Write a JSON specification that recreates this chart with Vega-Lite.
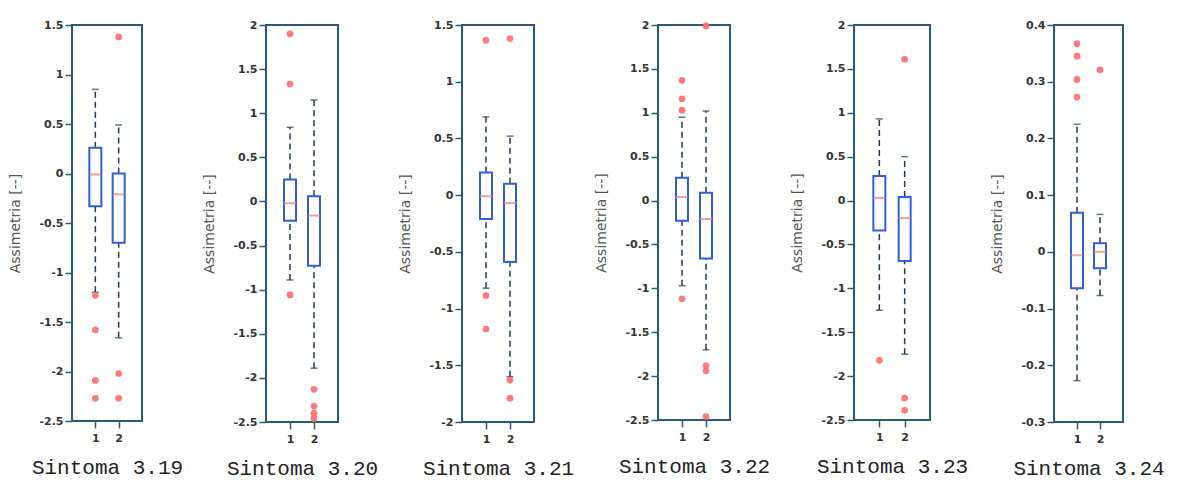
{
  "$schema": "https://vega.github.io/schema/vega-lite/v6.json",
  "background": "white",
  "padding": {"left": 7, "top": 18, "right": 5, "bottom": 5},
  "datasets": {
    "boxes": [
      {"p": "3.19", "g": "1", "lo": -1.2, "q1": -0.33, "med": -0.01, "q3": 0.26, "hi": 0.85},
      {"p": "3.19", "g": "2", "lo": -1.66, "q1": -0.7, "med": -0.21, "q3": 0.0, "hi": 0.49},
      {"p": "3.20", "g": "1", "lo": -0.89, "q1": -0.22, "med": -0.02, "q3": 0.25, "hi": 0.84},
      {"p": "3.20", "g": "2", "lo": -1.89, "q1": -0.73, "med": -0.16, "q3": 0.06, "hi": 1.15},
      {"p": "3.21", "g": "1", "lo": -0.82, "q1": -0.21, "med": -0.01, "q3": 0.2, "hi": 0.69},
      {"p": "3.21", "g": "2", "lo": -1.6, "q1": -0.59, "med": -0.07, "q3": 0.1, "hi": 0.52},
      {"p": "3.22", "g": "1", "lo": -0.97, "q1": -0.23, "med": 0.04, "q3": 0.26, "hi": 0.95},
      {"p": "3.22", "g": "2", "lo": -1.7, "q1": -0.66, "med": -0.21, "q3": 0.09, "hi": 1.02},
      {"p": "3.23", "g": "1", "lo": -1.25, "q1": -0.34, "med": 0.03, "q3": 0.28, "hi": 0.93},
      {"p": "3.23", "g": "2", "lo": -1.75, "q1": -0.69, "med": -0.2, "q3": 0.04, "hi": 0.5},
      {"p": "3.24", "g": "1", "lo": -0.227, "q1": -0.064, "med": -0.006, "q3": 0.069, "hi": 0.225},
      {"p": "3.24", "g": "2", "lo": -0.077, "q1": -0.029, "med": 0.0, "q3": 0.015, "hi": 0.066}
    ],
    "outliers": [
      {"p": "3.19", "g": "1", "v": -1.23},
      {"p": "3.19", "g": "1", "v": -1.58},
      {"p": "3.19", "g": "1", "v": -2.09},
      {"p": "3.19", "g": "1", "v": -2.27},
      {"p": "3.19", "g": "2", "v": 1.38},
      {"p": "3.19", "g": "2", "v": -2.02},
      {"p": "3.19", "g": "2", "v": -2.27},
      {"p": "3.20", "g": "1", "v": 1.9},
      {"p": "3.20", "g": "1", "v": 1.33},
      {"p": "3.20", "g": "1", "v": -1.06},
      {"p": "3.20", "g": "2", "v": -2.13},
      {"p": "3.20", "g": "2", "v": -2.32},
      {"p": "3.20", "g": "2", "v": -2.4},
      {"p": "3.20", "g": "2", "v": -2.46},
      {"p": "3.21", "g": "1", "v": 1.365},
      {"p": "3.21", "g": "1", "v": -0.885},
      {"p": "3.21", "g": "1", "v": -1.18},
      {"p": "3.21", "g": "2", "v": 1.38},
      {"p": "3.21", "g": "2", "v": -1.63},
      {"p": "3.21", "g": "2", "v": -1.79},
      {"p": "3.22", "g": "1", "v": 1.37},
      {"p": "3.22", "g": "1", "v": 1.16},
      {"p": "3.22", "g": "1", "v": 1.03},
      {"p": "3.22", "g": "1", "v": -1.12},
      {"p": "3.22", "g": "2", "v": 1.99},
      {"p": "3.22", "g": "2", "v": -1.88},
      {"p": "3.22", "g": "2", "v": -1.94},
      {"p": "3.22", "g": "2", "v": -2.46},
      {"p": "3.23", "g": "1", "v": -1.82},
      {"p": "3.23", "g": "2", "v": 1.61},
      {"p": "3.23", "g": "2", "v": -2.25},
      {"p": "3.23", "g": "2", "v": -2.39},
      {"p": "3.24", "g": "1", "v": 0.367},
      {"p": "3.24", "g": "1", "v": 0.345},
      {"p": "3.24", "g": "1", "v": 0.304},
      {"p": "3.24", "g": "1", "v": 0.273},
      {"p": "3.24", "g": "2", "v": 0.321}
    ]
  },
  "bounds": "flush",
  "spacing": 124,
  "resolve": {"scale": {"x": "independent", "y": "independent"}},
  "hconcat": [
    {
      "width": 70, "height": 396,
      "data": {"name": "boxes"},
      "transform": [{"filter": "datum.p == '3.19'"}],
      "encoding": {"x": {"field": "g", "type": "ordinal", "scale": {"type": "point", "padding": 1, "domain": ["1", "2"]}, "axis": {"title": "Sintoma 3.19"}}},
      "layer": [
        {"mark": {"type": "rule", "strokeDash": [6, 4], "color": "#1e3a52", "strokeWidth": 1.5}, "encoding": {"y": {"field": "lo", "type": "quantitative", "title": "Assimetria [--]", "scale": {"domain": [-2.5, 1.5], "nice": false, "zero": false}, "axis": {"values": [-2.5, -2.25, -2, -1.75, -1.5, -1.25, -1, -0.75, -0.5, -0.25, 0, 0.25, 0.5, 0.75, 1, 1.25, 1.5], "labelExpr": "round(datum.value*4) % 2 == 0 ? '' + datum.value : ''"}}, "y2": {"field": "q1"}}},
        {"mark": {"type": "rule", "strokeDash": [6, 4], "color": "#1e3a52", "strokeWidth": 1.5}, "encoding": {"y": {"field": "q3", "type": "quantitative", "title": "Assimetria [--]"}, "y2": {"field": "hi"}}},
        {"mark": {"type": "bar", "size": 12, "fill": "white", "stroke": "#2f5fd6", "strokeWidth": 2}, "encoding": {"y": {"field": "q1", "type": "quantitative", "title": "Assimetria [--]"}, "y2": {"field": "q3"}}},
        {"mark": {"type": "tick", "size": 12, "thickness": 2, "color": "#f07878"}, "encoding": {"y": {"field": "med", "type": "quantitative", "title": "Assimetria [--]"}}},
        {"mark": {"type": "tick", "size": 7, "thickness": 1.5, "color": "#1e3a52"}, "encoding": {"y": {"field": "lo", "type": "quantitative", "title": "Assimetria [--]"}}},
        {"mark": {"type": "tick", "size": 7, "thickness": 1.5, "color": "#1e3a52"}, "encoding": {"y": {"field": "hi", "type": "quantitative", "title": "Assimetria [--]"}}},
        {"data": {"name": "outliers"}, "transform": [{"filter": "datum.p == '3.19'"}], "mark": {"type": "point", "shape": "circle", "filled": true, "size": 45, "color": "#ff6b6b", "opacity": 0.9}, "encoding": {"y": {"field": "v", "type": "quantitative", "title": "Assimetria [--]"}}}
      ]
    },
    {
      "width": 72, "height": 397,
      "data": {"name": "boxes"},
      "transform": [{"filter": "datum.p == '3.20'"}],
      "encoding": {"x": {"field": "g", "type": "ordinal", "scale": {"type": "point", "padding": 1, "domain": ["1", "2"]}, "axis": {"title": "Sintoma 3.20"}}},
      "layer": [
        {"mark": {"type": "rule", "strokeDash": [6, 4], "color": "#1e3a52", "strokeWidth": 1.5}, "encoding": {"y": {"field": "lo", "type": "quantitative", "title": "Assimetria [--]", "scale": {"domain": [-2.5, 2], "nice": false, "zero": false}, "axis": {"values": [-2.5, -2.25, -2, -1.75, -1.5, -1.25, -1, -0.75, -0.5, -0.25, 0, 0.25, 0.5, 0.75, 1, 1.25, 1.5, 1.75, 2], "labelExpr": "round(datum.value*4) % 2 == 0 ? '' + datum.value : ''"}}, "y2": {"field": "q1"}}},
        {"mark": {"type": "rule", "strokeDash": [6, 4], "color": "#1e3a52", "strokeWidth": 1.5}, "encoding": {"y": {"field": "q3", "type": "quantitative", "title": "Assimetria [--]"}, "y2": {"field": "hi"}}},
        {"mark": {"type": "bar", "size": 12, "fill": "white", "stroke": "#2f5fd6", "strokeWidth": 2}, "encoding": {"y": {"field": "q1", "type": "quantitative", "title": "Assimetria [--]"}, "y2": {"field": "q3"}}},
        {"mark": {"type": "tick", "size": 12, "thickness": 2, "color": "#f07878"}, "encoding": {"y": {"field": "med", "type": "quantitative", "title": "Assimetria [--]"}}},
        {"mark": {"type": "tick", "size": 7, "thickness": 1.5, "color": "#1e3a52"}, "encoding": {"y": {"field": "lo", "type": "quantitative", "title": "Assimetria [--]"}}},
        {"mark": {"type": "tick", "size": 7, "thickness": 1.5, "color": "#1e3a52"}, "encoding": {"y": {"field": "hi", "type": "quantitative", "title": "Assimetria [--]"}}},
        {"data": {"name": "outliers"}, "transform": [{"filter": "datum.p == '3.20'"}], "mark": {"type": "point", "shape": "circle", "filled": true, "size": 45, "color": "#ff6b6b", "opacity": 0.9}, "encoding": {"y": {"field": "v", "type": "quantitative", "title": "Assimetria [--]"}}}
      ]
    },
    {
      "width": 72, "height": 397,
      "data": {"name": "boxes"},
      "transform": [{"filter": "datum.p == '3.21'"}],
      "encoding": {"x": {"field": "g", "type": "ordinal", "scale": {"type": "point", "padding": 1, "domain": ["1", "2"]}, "axis": {"title": "Sintoma 3.21"}}},
      "layer": [
        {"mark": {"type": "rule", "strokeDash": [6, 4], "color": "#1e3a52", "strokeWidth": 1.5}, "encoding": {"y": {"field": "lo", "type": "quantitative", "title": "Assimetria [--]", "scale": {"domain": [-2, 1.5], "nice": false, "zero": false}, "axis": {"values": [-2, -1.75, -1.5, -1.25, -1, -0.75, -0.5, -0.25, 0, 0.25, 0.5, 0.75, 1, 1.25, 1.5], "labelExpr": "round(datum.value*4) % 2 == 0 ? '' + datum.value : ''"}}, "y2": {"field": "q1"}}},
        {"mark": {"type": "rule", "strokeDash": [6, 4], "color": "#1e3a52", "strokeWidth": 1.5}, "encoding": {"y": {"field": "q3", "type": "quantitative", "title": "Assimetria [--]"}, "y2": {"field": "hi"}}},
        {"mark": {"type": "bar", "size": 12, "fill": "white", "stroke": "#2f5fd6", "strokeWidth": 2}, "encoding": {"y": {"field": "q1", "type": "quantitative", "title": "Assimetria [--]"}, "y2": {"field": "q3"}}},
        {"mark": {"type": "tick", "size": 12, "thickness": 2, "color": "#f07878"}, "encoding": {"y": {"field": "med", "type": "quantitative", "title": "Assimetria [--]"}}},
        {"mark": {"type": "tick", "size": 7, "thickness": 1.5, "color": "#1e3a52"}, "encoding": {"y": {"field": "lo", "type": "quantitative", "title": "Assimetria [--]"}}},
        {"mark": {"type": "tick", "size": 7, "thickness": 1.5, "color": "#1e3a52"}, "encoding": {"y": {"field": "hi", "type": "quantitative", "title": "Assimetria [--]"}}},
        {"data": {"name": "outliers"}, "transform": [{"filter": "datum.p == '3.21'"}], "mark": {"type": "point", "shape": "circle", "filled": true, "size": 45, "color": "#ff6b6b", "opacity": 0.9}, "encoding": {"y": {"field": "v", "type": "quantitative", "title": "Assimetria [--]"}}}
      ]
    },
    {
      "width": 72, "height": 395,
      "data": {"name": "boxes"},
      "transform": [{"filter": "datum.p == '3.22'"}],
      "encoding": {"x": {"field": "g", "type": "ordinal", "scale": {"type": "point", "padding": 1, "domain": ["1", "2"]}, "axis": {"title": "Sintoma 3.22"}}},
      "layer": [
        {"mark": {"type": "rule", "strokeDash": [6, 4], "color": "#1e3a52", "strokeWidth": 1.5}, "encoding": {"y": {"field": "lo", "type": "quantitative", "title": "Assimetria [--]", "scale": {"domain": [-2.5, 2], "nice": false, "zero": false}, "axis": {"values": [-2.5, -2.25, -2, -1.75, -1.5, -1.25, -1, -0.75, -0.5, -0.25, 0, 0.25, 0.5, 0.75, 1, 1.25, 1.5, 1.75, 2], "labelExpr": "round(datum.value*4) % 2 == 0 ? '' + datum.value : ''"}}, "y2": {"field": "q1"}}},
        {"mark": {"type": "rule", "strokeDash": [6, 4], "color": "#1e3a52", "strokeWidth": 1.5}, "encoding": {"y": {"field": "q3", "type": "quantitative", "title": "Assimetria [--]"}, "y2": {"field": "hi"}}},
        {"mark": {"type": "bar", "size": 12, "fill": "white", "stroke": "#2f5fd6", "strokeWidth": 2}, "encoding": {"y": {"field": "q1", "type": "quantitative", "title": "Assimetria [--]"}, "y2": {"field": "q3"}}},
        {"mark": {"type": "tick", "size": 12, "thickness": 2, "color": "#f07878"}, "encoding": {"y": {"field": "med", "type": "quantitative", "title": "Assimetria [--]"}}},
        {"mark": {"type": "tick", "size": 7, "thickness": 1.5, "color": "#1e3a52"}, "encoding": {"y": {"field": "lo", "type": "quantitative", "title": "Assimetria [--]"}}},
        {"mark": {"type": "tick", "size": 7, "thickness": 1.5, "color": "#1e3a52"}, "encoding": {"y": {"field": "hi", "type": "quantitative", "title": "Assimetria [--]"}}},
        {"data": {"name": "outliers"}, "transform": [{"filter": "datum.p == '3.22'"}], "mark": {"type": "point", "shape": "circle", "filled": true, "size": 45, "color": "#ff6b6b", "opacity": 0.9}, "encoding": {"y": {"field": "v", "type": "quantitative", "title": "Assimetria [--]"}}}
      ]
    },
    {
      "width": 76, "height": 395,
      "data": {"name": "boxes"},
      "transform": [{"filter": "datum.p == '3.23'"}],
      "encoding": {"x": {"field": "g", "type": "ordinal", "scale": {"type": "point", "padding": 1, "domain": ["1", "2"]}, "axis": {"title": "Sintoma 3.23"}}},
      "layer": [
        {"mark": {"type": "rule", "strokeDash": [6, 4], "color": "#1e3a52", "strokeWidth": 1.5}, "encoding": {"y": {"field": "lo", "type": "quantitative", "title": "Assimetria [--]", "scale": {"domain": [-2.5, 2], "nice": false, "zero": false}, "axis": {"values": [-2.5, -2.25, -2, -1.75, -1.5, -1.25, -1, -0.75, -0.5, -0.25, 0, 0.25, 0.5, 0.75, 1, 1.25, 1.5, 1.75, 2], "labelExpr": "round(datum.value*4) % 2 == 0 ? '' + datum.value : ''"}}, "y2": {"field": "q1"}}},
        {"mark": {"type": "rule", "strokeDash": [6, 4], "color": "#1e3a52", "strokeWidth": 1.5}, "encoding": {"y": {"field": "q3", "type": "quantitative", "title": "Assimetria [--]"}, "y2": {"field": "hi"}}},
        {"mark": {"type": "bar", "size": 12, "fill": "white", "stroke": "#2f5fd6", "strokeWidth": 2}, "encoding": {"y": {"field": "q1", "type": "quantitative", "title": "Assimetria [--]"}, "y2": {"field": "q3"}}},
        {"mark": {"type": "tick", "size": 12, "thickness": 2, "color": "#f07878"}, "encoding": {"y": {"field": "med", "type": "quantitative", "title": "Assimetria [--]"}}},
        {"mark": {"type": "tick", "size": 7, "thickness": 1.5, "color": "#1e3a52"}, "encoding": {"y": {"field": "lo", "type": "quantitative", "title": "Assimetria [--]"}}},
        {"mark": {"type": "tick", "size": 7, "thickness": 1.5, "color": "#1e3a52"}, "encoding": {"y": {"field": "hi", "type": "quantitative", "title": "Assimetria [--]"}}},
        {"data": {"name": "outliers"}, "transform": [{"filter": "datum.p == '3.23'"}], "mark": {"type": "point", "shape": "circle", "filled": true, "size": 45, "color": "#ff6b6b", "opacity": 0.9}, "encoding": {"y": {"field": "v", "type": "quantitative", "title": "Assimetria [--]"}}}
      ]
    },
    {
      "width": 69, "height": 397,
      "data": {"name": "boxes"},
      "transform": [{"filter": "datum.p == '3.24'"}],
      "encoding": {"x": {"field": "g", "type": "ordinal", "scale": {"type": "point", "padding": 1, "domain": ["1", "2"]}, "axis": {"title": "Sintoma 3.24"}}},
      "layer": [
        {"mark": {"type": "rule", "strokeDash": [6, 4], "color": "#1e3a52", "strokeWidth": 1.5}, "encoding": {"y": {"field": "lo", "type": "quantitative", "title": "Assimetria [--]", "scale": {"domain": [-0.3, 0.4], "nice": false, "zero": false}, "axis": {"values": [-0.3, -0.25, -0.2, -0.15, -0.1, -0.05, 0, 0.05, 0.1, 0.15, 0.2, 0.25, 0.3, 0.35, 0.4], "labelExpr": "round(datum.value*20) % 2 == 0 ? '' + datum.value : ''"}}, "y2": {"field": "q1"}}},
        {"mark": {"type": "rule", "strokeDash": [6, 4], "color": "#1e3a52", "strokeWidth": 1.5}, "encoding": {"y": {"field": "q3", "type": "quantitative", "title": "Assimetria [--]"}, "y2": {"field": "hi"}}},
        {"mark": {"type": "bar", "size": 12, "fill": "white", "stroke": "#2f5fd6", "strokeWidth": 2}, "encoding": {"y": {"field": "q1", "type": "quantitative", "title": "Assimetria [--]"}, "y2": {"field": "q3"}}},
        {"mark": {"type": "tick", "size": 12, "thickness": 2, "color": "#f07878"}, "encoding": {"y": {"field": "med", "type": "quantitative", "title": "Assimetria [--]"}}},
        {"mark": {"type": "tick", "size": 7, "thickness": 1.5, "color": "#1e3a52"}, "encoding": {"y": {"field": "lo", "type": "quantitative", "title": "Assimetria [--]"}}},
        {"mark": {"type": "tick", "size": 7, "thickness": 1.5, "color": "#1e3a52"}, "encoding": {"y": {"field": "hi", "type": "quantitative", "title": "Assimetria [--]"}}},
        {"data": {"name": "outliers"}, "transform": [{"filter": "datum.p == '3.24'"}], "mark": {"type": "point", "shape": "circle", "filled": true, "size": 45, "color": "#ff6b6b", "opacity": 0.9}, "encoding": {"y": {"field": "v", "type": "quantitative", "title": "Assimetria [--]"}}}
      ]
    }
  ],
  "config": {
    "view": {"stroke": "#2b5a78", "strokeWidth": 2, "fill": "white"},
    "axis": {"grid": false, "domain": false, "tickColor": "#2b5a78", "tickWidth": 1.5, "tickSize": 7, "labelFont": "DejaVu Sans", "labelFontSize": 11, "labelFontWeight": "bold", "labelColor": "#333333", "labelPadding": 2},
    "axisX": {"labelAngle": 0, "labelPadding": 4, "titleFont": "Liberation Mono", "titleFontSize": 21, "titleFontWeight": "normal", "titleColor": "#222222", "titlePadding": 13},
    "axisY": {"titleFont": "DejaVu Sans", "titleFontSize": 14, "titleFontWeight": "normal", "titleColor": "#555555", "titlePadding": 16, "minExtent": 34, "maxExtent": 34, "labelOverlap": false}
  }
}
